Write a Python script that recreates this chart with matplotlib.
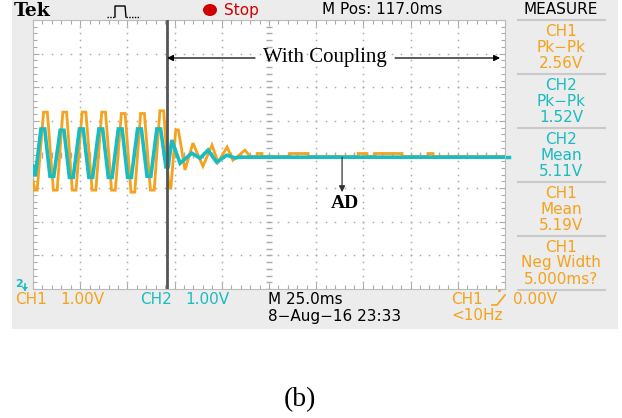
import numpy as np
import matplotlib
matplotlib.use("Agg")
import matplotlib.pyplot as plt
from matplotlib.patches import Rectangle, Ellipse, Polygon

# ---------------- data (time in ms, voltage in divisions/V relative to screen centre) -------------
ch1_t = [0.0, 1.0, 2.2, 5.6, 7.6, 10.8, 12.8, 15.8, 17.8, 20.8, 22.8, 26.0, 28.0, 31.3, 33.3,
         36.4, 38.4, 41.6, 43.6, 46.8, 48.8, 51.9, 53.9, 57.0, 59.0, 62.2, 64.2, 67.2, 69.2,
         72.0, 73.0, 75.6, 77.0, 80.5, 84.7, 90.0, 94.8, 98.0, 102.8, 105.9, 112.3, 115.0,
         118.7, 118.7, 121.3, 121.3, 136.1, 136.1, 145.7, 145.7, 172.2, 172.2, 176.9, 176.9,
         181.2, 181.2, 195.5, 195.5, 209.2, 209.2, 211.9, 211.9, 250.0]
ch1_v = [-0.77, -1.06, -1.06, 1.26, 1.26, -1.06, -1.06, 1.26, 1.26, -1.06, -1.06, 1.26, 1.26, -1.06, -1.06,
         1.26, 1.26, -1.06, -1.06, 1.22, 1.22, -1.12, -1.12, 1.22, 1.22, -1.06, -1.06, 1.30, 1.30,
         -1.00, -1.00, 0.73, 0.73, -0.46, 0.34, -0.35, 0.28, -0.23, 0.22, -0.17, 0.13, -0.06,
         -0.06, 0.03, 0.03, -0.06, -0.06, 0.03, 0.03, -0.06, -0.06, 0.03, 0.03, -0.06,
         -0.06, 0.03, 0.03, -0.06, -0.06, 0.03, 0.03, -0.06, -0.06]

ch2_t = [0.0, 1.2, 4.2, 6.2, 9.0, 11.0, 14.4, 16.4, 19.3, 21.3, 24.6, 26.6, 29.6, 31.6,
         34.9, 36.9, 39.9, 41.9, 45.2, 47.2, 50.1, 52.1, 55.4, 57.4, 60.4, 62.4, 65.6, 67.6,
         70.4, 71.6, 73.5, 77.9, 84.1, 88.5, 92.7, 97.3, 102.6, 107.0, 110.0, 250.0]
ch2_v = [-0.35, -0.65, 0.76, 0.76, -0.65, -0.65, 0.72, 0.72, -0.68, -0.68, 0.76, 0.76, -0.68, -0.68,
         0.76, 0.76, -0.68, -0.68, 0.76, 0.76, -0.68, -0.68, 0.76, 0.76, -0.65, -0.65, 0.76, 0.76,
         -0.37, -0.37, 0.43, -0.26, 0.04, -0.11, 0.13, -0.23, -0.02, -0.10, -0.08, -0.08]

coupling_t = 71.0

measure_titles = ["CH1", "CH2", "CH2", "CH1", "CH1"]
measure_names = ["Pk\u2212Pk", "Pk\u2212Pk", "Mean", "Mean", "Neg Width"]
measure_values = ["2.56V", "1.52V", "5.11V", "5.19V", "5.000ms?"]
measure_channels = [1, 2, 2, 1, 1]

ORANGE = "#F5A21C"
TEAL = "#19BCC0"
GREY_BG = "#ECECEC"

W, H = 622, 418
fig = plt.figure(figsize=(W / 100, H / 100), dpi=100)
fig.patch.set_facecolor("white")

# background axes in pixel coordinates
bg = fig.add_axes([0, 0, 1, 1])
bg.set_xlim(0, W)
bg.set_ylim(H, 0)
bg.axis("off")
bg.add_patch(Rectangle((12, 0), 606, 329, facecolor=GREY_BG, edgecolor="none", zorder=0))

SANS = "DejaVu Sans"
FS = 11

# top bar
bg.text(14, 11, "Tek", family="DejaVu Serif", weight="bold", fontsize=13.5, va="center", ha="left")
bg.plot([107, 115], [17, 17], color="black", lw=1.0, ls=(0, (1, 1)))
bg.plot([115, 115, 125, 126], [17, 6, 6, 17], color="black", lw=1.0)
bg.plot([126, 140], [17, 17], color="black", lw=1.0, ls=(0, (1, 1)))
bg.add_patch(Ellipse((210, 10), 14, 12, facecolor="#D00000", edgecolor="none"))
bg.text(224, 10, "Stop", family=SANS, fontsize=FS, color="#D00000", va="center", ha="left")
bg.text(322, 10, "M Pos: 117.0ms", family=SANS, fontsize=FS, color="black", va="center", ha="left")
bg.text(561, 10, "MEASURE", family=SANS, fontsize=FS, color="black", va="center", ha="center")

# measure panel
seps = [20, 74, 128, 182, 236, 290]
for s in seps:
    bg.plot([518, 605], [s, s], color="#C9C9C9", lw=1.5)
for k in range(5):
    col = ORANGE if measure_channels[k] == 1 else TEAL
    y0 = 31 + 54 * k
    bg.text(561, y0, measure_titles[k], family=SANS, fontsize=FS, color=col, ha="center", va="center")
    bg.text(561, y0 + 16, measure_names[k], family=SANS, fontsize=FS, color=col, ha="center", va="center")
    bg.text(561, y0 + 32, measure_values[k], family=SANS, fontsize=FS, color=col, ha="center", va="center")

# bottom bar
bg.text(15, 300, "CH1", family=SANS, fontsize=FS, color=ORANGE, va="center", ha="left")
bg.text(60, 300, "1.00V", family=SANS, fontsize=FS, color=ORANGE, va="center", ha="left")
bg.text(140, 300, "CH2", family=SANS, fontsize=FS, color=TEAL, va="center", ha="left")
bg.text(185, 300, "1.00V", family=SANS, fontsize=FS, color=TEAL, va="center", ha="left")
bg.text(268, 300, "M 25.0ms", family=SANS, fontsize=FS, color="black", va="center", ha="left")
bg.text(268, 316, "8\u2212Aug\u221216 23:33", family=SANS, fontsize=FS, color="black", va="center", ha="left")
bg.text(451, 300, "CH1", family=SANS, fontsize=FS, color=ORANGE, va="center", ha="left")
bg.plot([492, 497, 505], [305, 305, 295], color=ORANGE, lw=1.2)
bg.text(513, 300, "0.00V", family=SANS, fontsize=FS, color=ORANGE, va="center", ha="left")
bg.text(451, 316, "<10Hz", family=SANS, fontsize=FS, color=ORANGE, va="center", ha="left")

# caption
bg.text(300, 400, "(b)", family="Liberation Serif", fontsize=20, color="black", va="center", ha="center")

# markers around screen
bg.text(15, 284, "2", family=SANS, fontsize=8, weight="bold", color=TEAL, va="center", ha="left")
bg.plot([25, 25], [284, 290], color=TEAL, lw=1.2)
bg.add_patch(Polygon([[22, 287], [28, 287], [25, 291]], closed=True, facecolor=TEAL, edgecolor="none"))
bg.plot([48, 48], [22, 27], color="black", lw=1.5)
bg.add_patch(Polygon([[44.5, 26], [51.5, 26], [48, 31]], closed=True, facecolor="black", edgecolor="none"))
bg.plot([494, 504], [285, 285], color=ORANGE, lw=2)
bg.plot([499, 499], [282, 290], color=ORANGE, lw=2)
bg.plot([503, 509], [157, 157], color=TEAL, lw=2.5)

# ---------------- scope screen -------------
x0, y0p, x1, y1p = 33, 20, 505, 289
ax = fig.add_axes([x0 / W, 1 - y1p / H, (x1 - x0) / W, (y1p - y0p) / H])
ax.set_xlim(0, 250)
ax.set_ylim(-4, 4)
ax.set_facecolor("white")
for sp in ax.spines.values():
    sp.set_color("#BBBBBB")
    sp.set_linewidth(0.8)
ax.set_xticks(np.arange(0, 251, 25))
ax.set_yticks(np.arange(-4, 4.01, 1))
ax.set_xticks(np.arange(0, 251, 5), minor=True)
ax.set_yticks(np.arange(-4, 4.01, 0.2), minor=True)
ax.tick_params(which="both", direction="in", top=True, right=True, labelbottom=False, labelleft=False,
               color="#AAAAAA", width=0.8)
ax.tick_params(which="major", length=4)
ax.tick_params(which="minor", length=3)

grid_c = "#AAAAAA"
for gx in np.arange(25, 250, 25):
    if gx == 125:
        continue
    ys = np.arange(-4, 4.01, 0.2)
    ax.plot(np.full_like(ys, gx), ys, ls="none", marker="s", ms=1.1, color=grid_c, mec="none")
for gy in np.arange(-3, 4, 1):
    if gy == 0:
        continue
    xs = np.arange(0, 250.1, 5)
    ax.plot(xs, np.full_like(xs, gy), ls="none", marker="s", ms=1.1, color=grid_c, mec="none")
ys = np.arange(-4, 4.01, 0.2)
ax.plot(np.full_like(ys, 125), ys, ls="none", marker="_", ms=5, mew=1.0, color=grid_c)
xs = np.arange(0, 250.1, 5)
ax.plot(xs, np.zeros_like(xs), ls="none", marker="|", ms=5, mew=1.0, color=grid_c)

ax.plot(ch1_t, ch1_v, color=ORANGE, lw=2.0, zorder=3, solid_joinstyle="miter")
ax.plot(ch2_t, ch2_v, color=TEAL, lw=2.6, zorder=4, solid_joinstyle="miter")

ax.axvline(coupling_t, color="#555555", lw=2, zorder=6)

# "With Coupling" annotation
yc = 2.87
ax.annotate("", xy=(coupling_t, yc), xytext=(117.6, yc),
            arrowprops=dict(arrowstyle="-|>", color="black", lw=0.9, mutation_scale=9, shrinkA=0, shrinkB=0),
            zorder=7)
ax.annotate("", xy=(247.4, yc), xytext=(191.8, yc),
            arrowprops=dict(arrowstyle="-|>", color="black", lw=0.9, mutation_scale=9, shrinkA=0, shrinkB=0),
            zorder=7)
ax.text(154.7, yc, "With Coupling", family="Liberation Serif", fontsize=15, ha="center", va="center", zorder=7)

# AD annotation
ax.annotate("", xy=(163.7, -1.12), xytext=(163.7, -0.08),
            arrowprops=dict(arrowstyle="-|>", color="#333333", lw=0.9, mutation_scale=9, shrinkA=0, shrinkB=0),
            zorder=7)
ax.text(165.0, -1.45, "AD", family="Liberation Serif", weight="bold", fontsize=14, ha="center", va="center", zorder=7)

fig.savefig("out.png", dpi=100)
